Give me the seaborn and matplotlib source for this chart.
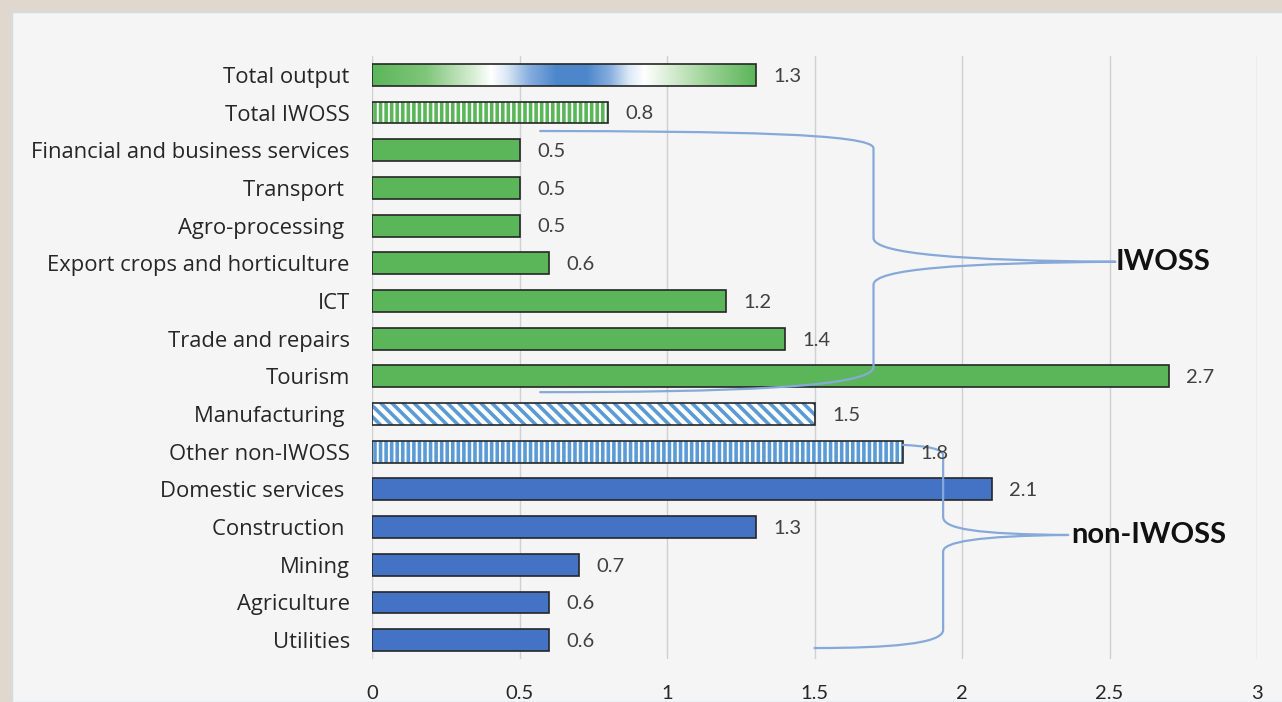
import numpy as np
import pandas as pd
import seaborn as sns
import matplotlib
matplotlib.use("Agg")
import matplotlib.pyplot as plt
from matplotlib.patches import Rectangle, PathPatch
from matplotlib.path import Path
from matplotlib.colors import LinearSegmentedColormap

# ---------------- data ----------------
categories = ["Total output", "Total IWOSS", "Financial and business services",
              "Transport", "Agro-processing", "Export crops and horticulture",
              "ICT", "Trade and repairs", "Tourism", "Manufacturing",
              "Other non-IWOSS", "Domestic services", "Construction",
              "Mining", "Agriculture", "Utilities"]
tick_labels = ["Total output", "Total IWOSS", "Financial and business services",
               "Transport ", "Agro-processing ", "Export crops and horticulture",
               "ICT", "Trade and repairs", "Tourism", "Manufacturing ",
               "Other non-IWOSS", "Domestic services ", "Construction ",
               "Mining", "Agriculture", "Utilities"]
values = [1.3, 0.8, 0.5, 0.5, 0.5, 0.6, 1.2, 1.4, 2.7, 1.5, 1.8, 2.1, 1.3, 0.7, 0.6, 0.6]
groups = ["total", "iwoss_total", "iwoss", "iwoss", "iwoss", "iwoss", "iwoss", "iwoss",
          "iwoss", "manuf", "non_total", "non", "non", "non", "non", "non"]
x_ticks = [0, 0.5, 1, 1.5, 2, 2.5, 3]
x_tick_labels = ["0", "0.5", "1", "1.5", "2", "2.5", "3"]
brace_labels = ["IWOSS", "non-IWOSS"]

# ---------------- style ----------------
GREEN = "#5BB65A"
BLUE = "#4472C4"
LIGHT_BLUE = "#5B9BD5"
BRACE = "#86A9DA"
TXT = "#404040"

sns.set_theme(style="white")
plt.rcParams["font.family"] = ["Lato", "DejaVu Sans"]
plt.rcParams["hatch.linewidth"] = 2.6

fig = plt.figure(figsize=(12.82, 7.02), dpi=100)
fig.patch.set_facecolor("#E0D8CE")
fig.add_artist(Rectangle((12 / 1282, 0), 1, 1 - 12 / 702, transform=fig.transFigure,
                         facecolor="#F5F5F5", edgecolor="#D5DADD", lw=1, zorder=0))
ax = fig.add_axes([0.2902, 0.0613, 0.6903, 0.8589])
ax.set_facecolor("none")

df = pd.DataFrame({"category": categories, "value": values, "group": groups})
color_of = {"total": GREEN, "iwoss_total": GREEN, "iwoss": GREEN, "manuf": LIGHT_BLUE,
            "non_total": LIGHT_BLUE, "non": BLUE}
pal = {c: color_of[g] for c, g in zip(categories, groups)}

sns.barplot(data=df, y="category", x="value", hue="category", palette=pal,
            order=categories, hue_order=categories, orient="h", width=0.58,
            edgecolor="#262626", linewidth=1.2, saturation=1, legend=False, ax=ax)

grad_cmap = LinearSegmentedColormap.from_list(
    "tot", [(0.0, GREEN), (0.14, "#80C67A"), (0.26, "#D6ECD2"), (0.31, "#FFFFFF"),
            (0.35, "#DCE8F6"), (0.41, "#86AEDE"), (0.48, "#4D87CB"), (0.56, "#4D87CB"),
            (0.62, "#86AEDE"), (0.67, "#DCE8F6"), (0.71, "#FFFFFF"), (0.77, "#DCEFD8"),
            (0.88, "#9AD194"), (1.0, GREEN)])

patches = list(ax.patches)
for p, g, v in zip(patches, groups, values):
    x0, y0, w, h = p.get_x(), p.get_y(), p.get_width(), p.get_height()
    if g == "total":
        p.set_facecolor("none")
        im = ax.imshow(np.linspace(0, 1, 256)[None, :], cmap=grad_cmap, aspect="auto",
                       extent=[x0, x0 + w, y0 + h, y0], zorder=p.get_zorder() - 0.05,
                       interpolation="bilinear")
        im.set_clip_path(p)
    elif g in ("iwoss_total", "manuf", "non_total"):
        hc = GREEN if g == "iwoss_total" else LIGHT_BLUE
        p.set_facecolor("white")
        p.set_edgecolor(hc)
        p.set_linewidth(0)
        p.set_hatch("\\\\\\" if g == "manuf" else "|||")
        ax.add_patch(Rectangle((x0, y0), w, h, fill=False, edgecolor="#262626",
                               lw=1.2, zorder=p.get_zorder() + 0.1))
    ax.annotate(f"{v:g}", xy=(x0 + w, y0 + h / 2), xytext=(12.5, -1),
                textcoords="offset points", va="center", ha="left",
                fontsize=14.5, color=TXT, zorder=5)

# braces
def brace(pts_codes):
    verts = [p for p, c in pts_codes]
    codes = [c for p, c in pts_codes]
    return PathPatch(Path(verts, codes), fill=False, edgecolor=BRACE, lw=1.6, zorder=4,
                     capstyle="round", joinstyle="round")

M, L, C = Path.MOVETO, Path.LINETO, Path.CURVE4
iw = [((0.57, 1.49), M),
      ((1.2, 1.50), C), ((1.70, 1.55), C), ((1.70, 1.95), C),
      ((1.70, 4.33), L),
      ((1.70, 4.75), C), ((2.0, 4.93), C), ((2.52, 4.96), C),
      ((2.0, 4.99), C), ((1.70, 5.15), C), ((1.70, 5.57), C),
      ((1.70, 7.75), L),
      ((1.70, 8.30), C), ((1.2, 8.42), C), ((0.57, 8.42), C)]
ni = [((1.80, 9.82), M),
      ((1.88, 9.85), C), ((1.936, 9.92), C), ((1.936, 10.10), C),
      ((1.936, 11.73), L),
      ((1.936, 12.05), C), ((2.05, 12.19), C), ((2.36, 12.21), C),
      ((2.05, 12.23), C), ((1.936, 12.40), C), ((1.936, 12.65), C),
      ((1.936, 14.73), L),
      ((1.936, 15.10), C), ((1.75, 15.21), C), ((1.50, 15.21), C)]
ax.add_patch(brace(iw))
ax.add_patch(brace(ni))
ax.text(2.52, 4.96, brace_labels[0], fontsize=21, fontweight="bold", color="#111111",
        va="center", ha="left", zorder=6)
ax.text(2.37, 12.21, brace_labels[1], fontsize=21, fontweight="bold", color="#111111",
        va="center", ha="left", zorder=6)

# axes styling
ax.set_xlim(0, 3)
ax.set_ylim(15.5, -0.5)
ax.set_xticks(x_ticks)
ax.set_xticklabels(x_tick_labels)
ax.set_yticks(range(len(categories)))
ax.set_yticklabels(tick_labels, family=["Open Sans", "DejaVu Sans"])
ax.tick_params(axis="y", length=0, pad=16, labelsize=15.8, labelcolor="#262626")
ax.tick_params(axis="x", length=0, pad=18.5, labelsize=14.5, labelcolor="#262626")
ax.grid(axis="x", color="#D0D0D0", lw=1)
ax.grid(axis="y", visible=False)
ax.set_axisbelow(True)
for s in ax.spines.values():
    s.set_visible(False)
ax.set_xlabel("")
ax.set_ylabel("")

fig.savefig("out.png", dpi=100, facecolor=fig.get_facecolor())
